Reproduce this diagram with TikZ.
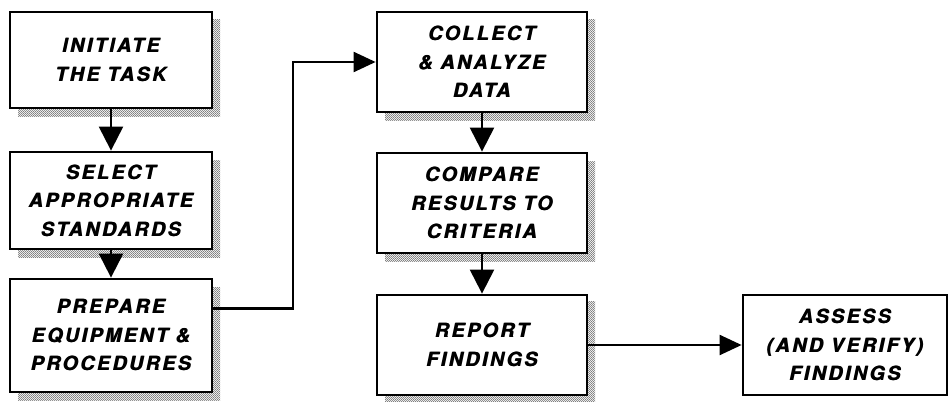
\documentclass[tikz,border=0pt]{standalone}
\usepackage{fontspec}
\setmainfont{TeX Gyre Heros}
\newfontfamily\boxfont{texgyreheros-bolditalic.otf}[LetterSpace=13]
\usetikzlibrary{arrows.meta,calc,patterns}
\pgfdeclarepatternformonly{stipple}{\pgfqpoint{0pt}{0pt}}{\pgfqpoint{2.2pt}{2.2pt}}{\pgfqpoint{2.2pt}{2.2pt}}{%
  \pgfpathrectangle{\pgfqpoint{0pt}{0pt}}{\pgfqpoint{1pt}{1pt}}%
  \pgfpathrectangle{\pgfqpoint{1.1pt}{1.1pt}}{\pgfqpoint{1pt}{1pt}}%
  \pgfusepath{fill}}
\newcommand{\hb}[1]{\rlap{#1}\hspace{0.7pt}#1}
\tikzset{
  stepbox/.style={draw=black, line width=2.8pt, fill=white, rectangle, align=center,
    font=\fontsize{19.5}{28.5}\selectfont\boxfont, inner sep=0pt},
  shadowbox/.style={pattern=stipple, pattern color=black, draw=none},
  conn/.style={line width=2.2pt, -{Triangle[length=24pt,width=24pt]}},
  hconn/.style={line width=2.2pt, -{Triangle[length=22pt,width=20pt]}}
}
\begin{document}
\begin{tikzpicture}[x=1pt,y=-1pt]
\useasboundingbox (0,0) rectangle (949,401);
% shadows (offset copies of the boxes)
\fill[shadowbox] (18,20)  rectangle (220,116);
\fill[shadowbox] (18,160) rectangle (220,257);
\fill[shadowbox] (18,287) rectangle (220,400);
\fill[shadowbox] (385,20) rectangle (595,120);
\fill[shadowbox] (385,161) rectangle (595,261);
\fill[shadowbox] (385,301) rectangle (595,401);
% nodes
\node[stepbox, minimum width=202pt, minimum height=96pt]  (b1) at (111,60)  {\hb{INITIATE}\\\hb{THE  TASK}};
\node[stepbox, minimum width=202pt, minimum height=97pt]  (b2) at (111,200.5) {\hb{SELECT}\\\hb{APPROPRIATE}\\\hb{STANDARDS}};
\node[stepbox, minimum width=202pt, minimum height=113pt] (b3) at (111,335.5) {\hb{PREPARE}\\\hb{EQUIPMENT \&}\\\hb{PROCEDURES}};
\node[stepbox, minimum width=210pt, minimum height=100pt] (b4) at (482,62)  {\hb{COLLECT}\\\hb{\& ANALYZE}\\\hb{DATA}};
\node[stepbox, minimum width=210pt, minimum height=100pt] (b5) at (482,203) {\hb{COMPARE}\\\hb{RESULTS  TO}\\\hb{CRITERIA}};
\node[stepbox, minimum width=210pt, minimum height=100pt] (b6) at (482,345) {\hb{REPORT}\\\hb{FINDINGS}};
\node[stepbox, minimum width=204pt, minimum height=100pt] (b7) at (845,345) {\hb{ASSESS}\\\hb{(AND  VERIFY)}\\\hb{FINDINGS}};
% connectors
\coordinate (o3) at ([yshift=27]b3.east);
\coordinate (k1) at (293,0);
\draw[conn] (b1) -- (b2);
\draw[conn] (b2) -- (b3);
\draw[hconn] (o3) -- (o3 -| k1) |- (b4.west);
\draw[conn] (b4) -- (b5);
\draw[conn] (b5) -- (b6);
\draw[hconn] (b6) -- (b7);
\end{tikzpicture}
\end{document}
